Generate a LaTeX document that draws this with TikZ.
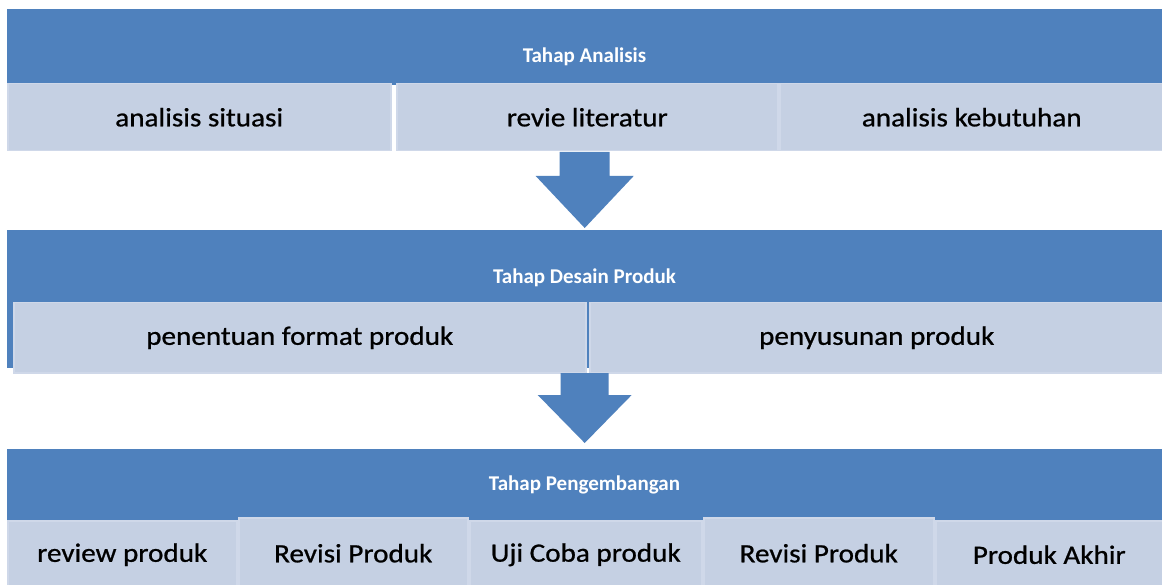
\documentclass[tikz,border=0pt]{standalone}
\usepackage{fontspec}
\setmainfont{Carlito}
\newfontfamily\subfont[FakeStretch=1.1,FakeBold=0.8]{Carlito}
\definecolor{bandblue}{HTML}{4F81BD}
\definecolor{boxfill}{HTML}{C5D0E3}
\definecolor{boxedge}{HTML}{CFD8E9}
\tikzset{
  bandbox/.style={fill=bandblue, draw=none, anchor=north west, inner sep=0pt},
  titletext/.style={text=white, font=\fontsize{21}{24}\selectfont\bfseries, inner sep=0pt},
  subbox/.style={fill=boxfill, draw=boxedge, line width=1.5pt, anchor=north west, inner sep=0pt,
    font=\subfont\fontsize{26.5}{30}\selectfont, text=black},
  arrowblue/.style={fill=bandblue, draw=none}
}
\begin{document}
\begin{tikzpicture}[x=1pt,y=-1pt]
\useasboundingbox (0,0) rectangle (1162,585);
\clip (0,0) rectangle (1162,585);
\fill[white] (0,0) rectangle (1162,585);
% Band 1
\node[bandbox, minimum width=1155pt, minimum height=76pt] (b1) at (7,9) {};
\node[titletext] (t1) at (584.5,57) {Tahap Analisis};
\node[subbox, minimum width=383pt, minimum height=67pt] (s11) at (7,83) {analisis situasi};
\node[subbox, minimum width=381pt, minimum height=67pt] (s12) at (396,83) {revie literatur};
\node[subbox, minimum width=384pt, minimum height=67pt] (s13) at (779,83) {analisis kebutuhan};
% Band 2
\node[bandbox, minimum width=1155pt, minimum height=138pt] (b2) at (7,230) {};
\node[titletext] (t2) at (584.5,278) {Tahap Desain Produk};
\node[subbox, minimum width=572pt, minimum height=70pt] (s21) at (13,302) {penentuan format produk};
\node[subbox, minimum width=574pt, minimum height=70pt] (s22) at (589,302) {penyusunan produk};
% Band 3
\node[bandbox, minimum width=1155pt, minimum height=80pt] (b3) at (7,449) {};
\node[titletext] (t3) at (584.5,485) {Tahap Pengembangan};
\node[subbox, minimum width=229pt, minimum height=68pt] (s31) at (7,520) {review produk};
\node[subbox, minimum width=229pt, minimum height=71pt] (s32) at (238,517) {Revisi Produk};
\node[subbox, minimum width=232pt, minimum height=68pt] (s33) at (469,520) {Uji Coba produk};
\node[subbox, minimum width=230pt, minimum height=71pt] (s34) at (703,517) {Revisi Produk};
\node[subbox, minimum width=227pt, minimum height=68pt] (s35) at (935,520) {Produk Akhir};
% Arrows
\fill[arrowblue] ([yshift=2pt]b2.north) -- ++(-49,-52) -- ++(24,0) -- ++(0,-24) -- ++(50,0) -- ++(0,24) -- ++(24,0) -- cycle;
\fill[arrowblue] ([yshift=6pt]b3.north) -- ++(-47,-48) -- ++(23,0) -- ++(0,-22) -- ++(48,0) -- ++(0,22) -- ++(23,0) -- cycle;
\end{tikzpicture}
\end{document}
